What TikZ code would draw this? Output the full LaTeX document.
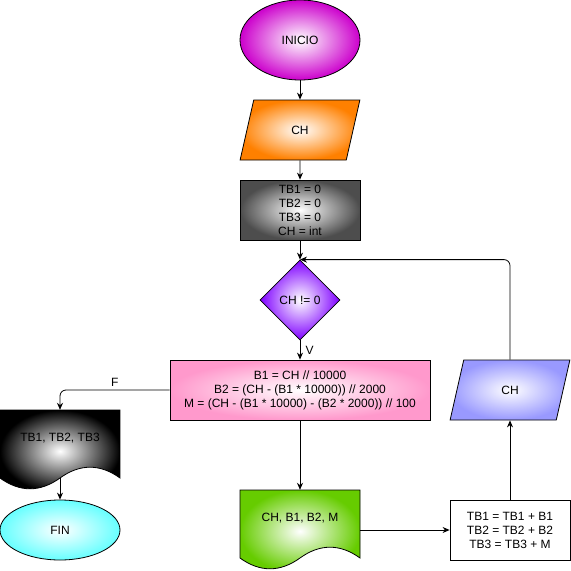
\documentclass[tikz,border=0pt]{standalone}
\usepackage{fontspec}
\setmainfont{Liberation Sans}
\usetikzlibrary{shapes.geometric,arrows.meta}
\definecolor{startc}{HTML}{CC00CC}
\definecolor{readc}{HTML}{FF8000}
\definecolor{initc}{HTML}{4D4D4D}
\definecolor{condc}{HTML}{7F00FF}
\definecolor{calcc}{HTML}{FF99CC}
\definecolor{readbc}{HTML}{9999FF}
\definecolor{showc}{HTML}{66CC00}
\definecolor{stopc}{HTML}{66FFFF}
\begin{document}
\begin{tikzpicture}[x=1pt, y=-1pt,
  font=\fontsize{12}{14}\selectfont,
  base/.style={draw, line width=0.8pt, inner sep=0pt, align=center},
  grad/.style={inner color=white, outer color=#1},
  term/.style={base, ellipse, minimum width=120pt},
  io/.style={base, trapezium, trapezium left angle=73.3, trapezium right angle=106.7,
    trapezium stretches=true, minimum width=120pt, minimum height=60pt},
  proc/.style={base, rectangle, minimum width=120pt, minimum height=60pt},
  dec/.style={base, diamond, minimum width=80pt, minimum height=80pt},
  doc/.style={minimum width=120pt, minimum height=56pt, inner sep=0pt},
  arr/.style={-{Stealth[length=7pt, width=6pt]}, line width=0.8pt}]
  \useasboundingbox (0,0) rectangle (571,571);
  \node (start) [term, minimum height=80pt, grad=startc] at (300,40) {INICIO};
  \node (read) [io, grad=readc] at (300,130) {CH};
  \node (init) [proc, grad=initc] at (300,210) {TB1 = 0\\TB2 = 0\\TB3 = 0\\CH = int};
  \node (cond) [dec, grad=condc] at (300,300) {CH != 0};
  \node (calc) [proc, minimum width=260pt, grad=calcc] at (300,390)
    {B1 = CH // 10000\\B2 = (CH - (B1 * 10000)) // 2000\\M = (CH - (B1 * 10000) - (B2 * 2000)) // 100};
  \node (readb) [io, grad=readbc] at (510,390) {CH};
  \node (sum) [proc, fill=white] at (510,530) {TB1 = TB1 + B1\\TB2 = TB2 + B2\\TB3 = TB3 + M};
  % documents
  \shadedraw[line width=0.8pt, inner color=white, outer color=black]
    (0,410) -- (120,410) -- (120,478) .. controls (100,463.6) and (80,463.6) .. (60,478)
    .. controls (40,492.4) and (20,492.4) .. (0,478) -- cycle;
  \node (total) [doc] at (60,438) {TB1, TB2, TB3};
  \coordinate (totalb) at (60,478);
  \node (stop) [term, minimum height=60pt, grad=stopc] at (60,530) {FIN};
  \shadedraw[line width=0.8pt, inner color=white, outer color=showc]
    (240,490) -- (360,490) -- (360,558) .. controls (340,543.6) and (320,543.6) .. (300,558)
    .. controls (280,572.4) and (260,572.4) .. (240,558) -- cycle;
  \node (show) [doc] at (300,518) {CH, B1, B2, M};
  % connectors
  \draw[arr] (start) -- (read);
  \draw[arr] (read) -- (init);
  \draw[arr] (init) -- (cond);
  \draw[arr] (cond) -- node[right, xshift=2pt] {V} (calc);
  \draw[arr, rounded corners=6pt] (calc.west) -| node[pos=0.25, above] {F} (total.north);
  \draw[arr] (totalb) -- (stop);
  \draw[arr] (calc) -- (show);
  \draw[arr] (show.east |- sum.west) -- (sum.west);
  \draw[arr] (sum) -- (readb);
  \draw[arr, rounded corners=6pt] (readb.north) |- (cond.north);
\end{tikzpicture}
\end{document}
